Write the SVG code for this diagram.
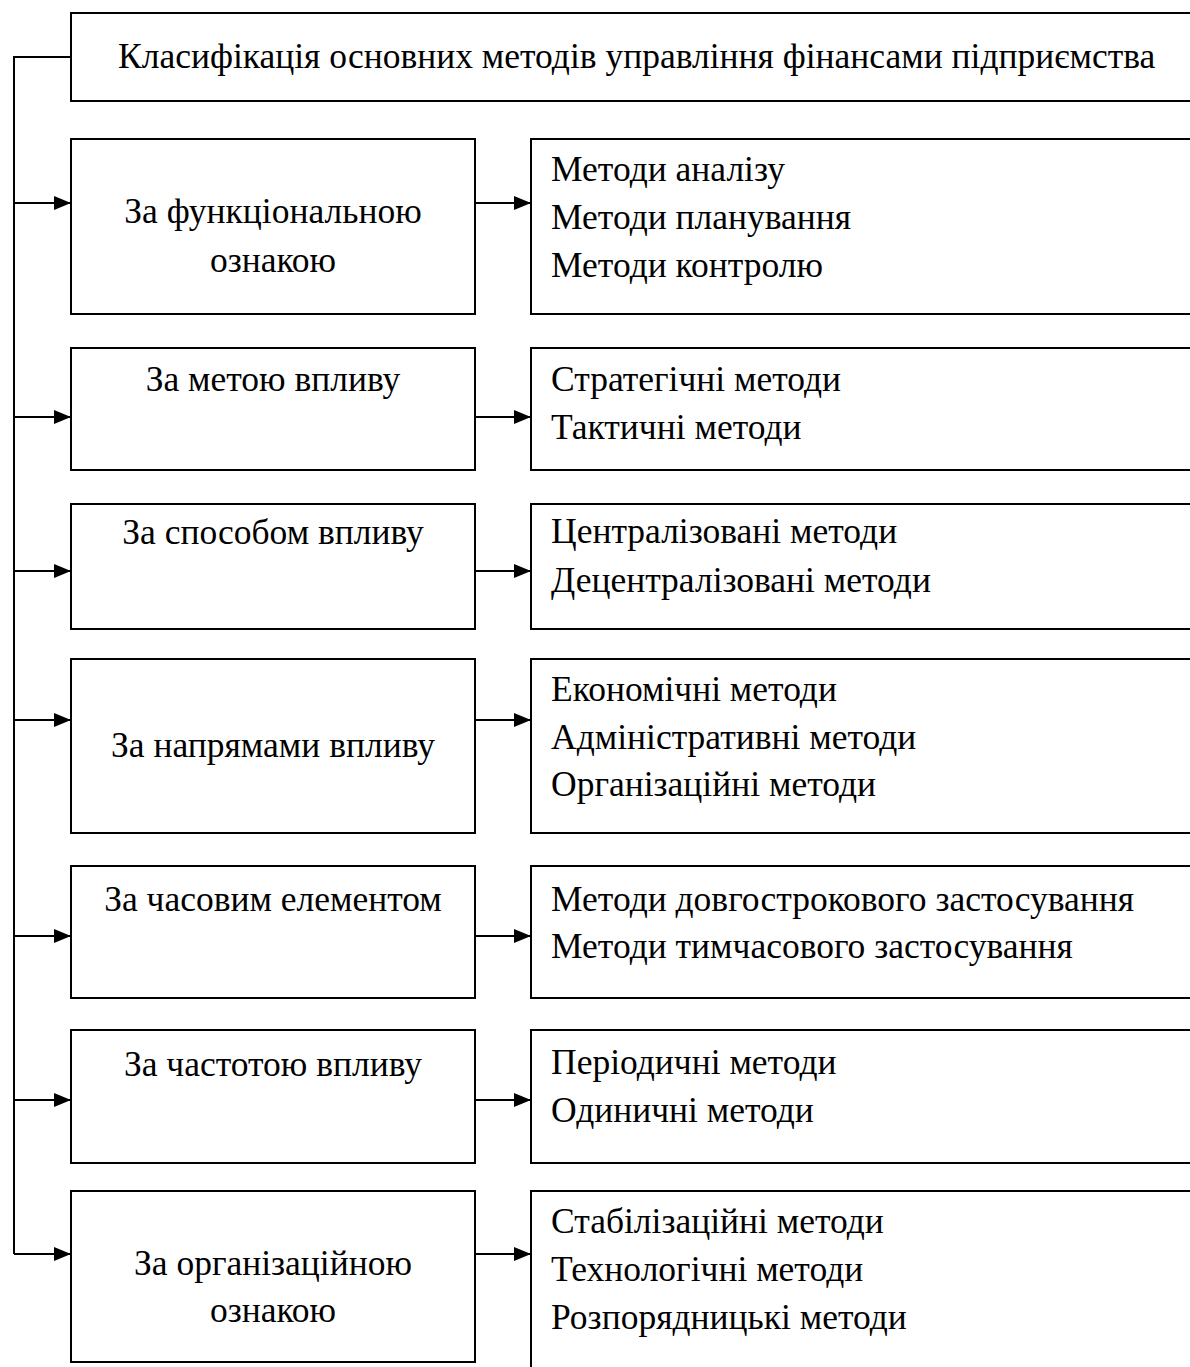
<svg xmlns="http://www.w3.org/2000/svg" width="1190" height="1367" viewBox="0 0 1190 1367">
<style>
.box{fill:#fff;stroke:#000;stroke-width:2}
.t{font-family:"Liberation Serif","Times New Roman",serif;font-size:35.5px;fill:#000}
.c{text-anchor:middle}
.ln{fill:none;stroke:#000;stroke-width:2}
</style>
<defs>
<marker id="ah" markerWidth="17" markerHeight="14" refX="17" refY="7" orient="auto" markerUnits="userSpaceOnUse">
<path d="M0,0 L17,7 L0,14 Z" fill="#000"/>
</marker>
</defs>
<rect width="1190" height="1367" fill="#fff"/>
<g id="connectors">
<path class="ln" d="M71,57 H14 V1254"/>
<line class="ln" x1="14" y1="203" x2="71" y2="203" marker-end="url(#ah)"/>
<line class="ln" x1="14" y1="417" x2="71" y2="417" marker-end="url(#ah)"/>
<line class="ln" x1="14" y1="571" x2="71" y2="571" marker-end="url(#ah)"/>
<line class="ln" x1="14" y1="720" x2="71" y2="720" marker-end="url(#ah)"/>
<line class="ln" x1="14" y1="936" x2="71" y2="936" marker-end="url(#ah)"/>
<line class="ln" x1="14" y1="1100" x2="71" y2="1100" marker-end="url(#ah)"/>
<line class="ln" x1="14" y1="1254" x2="71" y2="1254" marker-end="url(#ah)"/>
<line class="ln" x1="475" y1="203" x2="531" y2="203" marker-end="url(#ah)"/>
<line class="ln" x1="475" y1="417" x2="531" y2="417" marker-end="url(#ah)"/>
<line class="ln" x1="475" y1="571" x2="531" y2="571" marker-end="url(#ah)"/>
<line class="ln" x1="475" y1="720" x2="531" y2="720" marker-end="url(#ah)"/>
<line class="ln" x1="475" y1="936" x2="531" y2="936" marker-end="url(#ah)"/>
<line class="ln" x1="475" y1="1100" x2="531" y2="1100" marker-end="url(#ah)"/>
<line class="ln" x1="475" y1="1254" x2="531" y2="1254" marker-end="url(#ah)"/>
</g>
<g id="title">
<rect class="box" x="71" y="13" width="1130" height="88"/>
<text class="t" x="118" y="68">Класифікація основних методів управління фінансами підприємства</text>
</g>
<g id="l1"><rect class="box" x="71" y="139" width="404" height="175"/>
<text class="t c" x="273" y="223">За функціональною</text><text class="t c" x="273" y="272">ознакою</text></g>
<g id="r1"><rect class="box" x="531" y="139" width="670" height="175"/>
<text class="t" x="551" y="181">Методи аналізу</text><text class="t" x="551" y="229">Методи планування</text><text class="t" x="551" y="277">Методи контролю</text></g>
<g id="l2"><rect class="box" x="71" y="348" width="404" height="122"/>
<text class="t c" x="273" y="391">За метою впливу</text></g>
<g id="r2"><rect class="box" x="531" y="348" width="670" height="122"/>
<text class="t" x="551" y="391">Стратегічні методи</text><text class="t" x="551" y="439">Тактичні методи</text></g>
<g id="l3"><rect class="box" x="71" y="504" width="404" height="125"/>
<text class="t c" x="273" y="544">За способом впливу</text></g>
<g id="r3"><rect class="box" x="531" y="504" width="670" height="125"/>
<text class="t" x="551" y="543">Централізовані методи</text><text class="t" x="551" y="592">Децентралізовані методи</text></g>
<g id="l4"><rect class="box" x="71" y="659" width="404" height="174"/>
<text class="t c" x="273" y="757">За напрямами впливу</text></g>
<g id="r4"><rect class="box" x="531" y="659" width="670" height="174"/>
<text class="t" x="551" y="701">Економічні методи</text><text class="t" x="551" y="749">Адміністративні методи</text><text class="t" x="551" y="796">Організаційні методи</text></g>
<g id="l5"><rect class="box" x="71" y="866" width="404" height="132"/>
<text class="t c" x="273" y="911">За часовим елементом</text></g>
<g id="r5"><rect class="box" x="531" y="866" width="670" height="132"/>
<text class="t" x="551" y="911">Методи довгострокового застосування</text><text class="t" x="551" y="958">Методи тимчасового застосування</text></g>
<g id="l6"><rect class="box" x="71" y="1030" width="404" height="133"/>
<text class="t c" x="273" y="1076">За частотою впливу</text></g>
<g id="r6"><rect class="box" x="531" y="1030" width="670" height="133"/>
<text class="t" x="551" y="1074">Періодичні методи</text><text class="t" x="551" y="1122">Одиничні методи</text></g>
<g id="l7"><rect class="box" x="71" y="1191" width="404" height="171"/>
<text class="t c" x="273" y="1275">За організаційною</text><text class="t c" x="273" y="1322">ознакою</text></g>
<g id="r7"><rect class="box" x="531" y="1191" width="670" height="190"/>
<text class="t" x="551" y="1233">Стабілізаційні методи</text><text class="t" x="551" y="1281">Технологічні методи</text><text class="t" x="551" y="1329">Розпорядницькі методи</text></g>
</svg>
